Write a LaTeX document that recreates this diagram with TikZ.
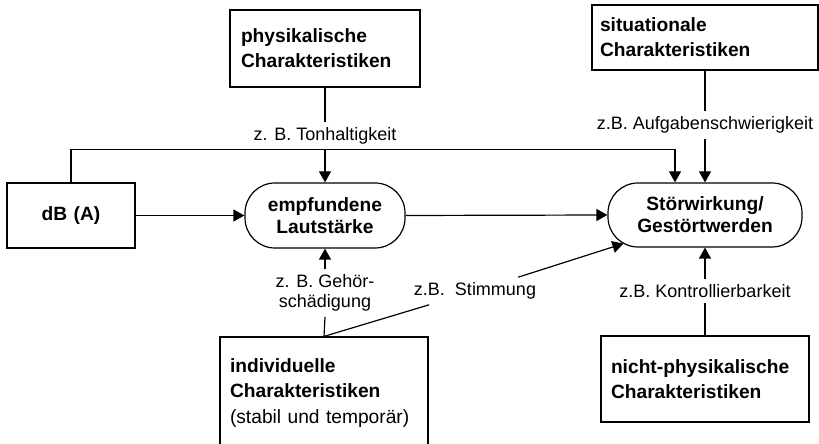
\documentclass[tikz,border=0pt]{standalone}
\usepackage{fontspec}
\setmainfont{Liberation Sans}
\usetikzlibrary{arrows.meta}

\begin{document}
\begin{tikzpicture}[x=0.5pt,y=0.5pt,
        box/.style={draw,line width=0.6pt,align=left,
            font=\fontsize{9.6}{12.5}\selectfont\bfseries},
        roundbox/.style={draw,line width=0.6pt,rounded corners=15pt,align=center,
            minimum width=80pt,minimum height=32.5pt,
            font=\fontsize{9.6}{11}\selectfont\bfseries},
        lbl/.style={font=\fontsize{9}{10}\selectfont,inner sep=2.5pt,align=center},
        con/.style={line width=0.6pt},
        arr/.style={line width=0.6pt,-{Triangle[length=5.5pt,width=6pt]}}]
        \useasboundingbox (0,0) rectangle (819,444);
        \node[box,text width=84pt,inner xsep=5.5pt,minimum height=38.5pt] (phys) at (325,395.5) {physikalische\\Charakteristiken};
        \node[box,text width=105pt,inner xsep=4pt,minimum height=32.5pt] (situ) at (705,406.5) {situationale\\Charakteristiken};
        \node[box,text width=54pt,inner xsep=5pt,minimum height=32.5pt,align=center] (dB) at (71,228.5) {dB (A)};
        \node[roundbox] (empf) at (325,228.5) {empfundene\\Lautstärke};
        \node[roundbox,minimum width=97pt,minimum height=32pt] (stoer) at (705,229) {Störwirkung/\\Gestörtwerden};
        \node[box,text width=94pt,inner xsep=5pt,minimum height=56pt,font=\fontsize{9.6}{12.75}\selectfont\bfseries] (indiv) at (324,51) {individuelle\\Charakteristiken\\{\mdseries (stabil und temporär)}};
        \node[box,text width=94pt,inner xsep=5pt,minimum height=43pt] (nicht) at (705,65) {nicht-physikalische\\Charakteristiken};
        \node[lbl] (lblTon) at (325,308) {z. B. Tonhaltigkeit};
        \node[lbl] (lblAuf) at (705,319) {z.B. Aufgabenschwierigkeit};
        \node[lbl] (lblGeh) at (325,151) {z. B. Gehör-\\schädigung};
        \node[lbl] (lblStim) at (475,153) {z.B.\ \ Stimmung};
        \node[lbl] (lblKon) at (705,153) {z.B. Kontrollierbarkeit};
        \draw[arr] (dB.east) -- (empf.west);
        \draw[arr] (empf.east) -- (stoer.west);
        \draw[arr] (dB.north) -- ++(0,33) -| ([xshift=-15pt]stoer.north);
        \draw[con] (phys.south) -- (lblTon.north);
        \draw[arr] (lblTon.south) -- (empf.north);
        \draw[con] (situ.south) -- (lblAuf.north);
        \draw[arr] (lblAuf.south) -- (stoer.north);
        \draw[con] (indiv.north) -- (lblGeh.south);
        \draw[arr] (lblGeh.north) -- (empf.south);
        \draw[con] (indiv.north) -- (lblStim);
        \draw[arr] (lblStim) -- ([xshift=8pt,yshift=2pt]stoer.south west);
        \draw[con] (nicht.north) -- (lblKon.south);
        \draw[arr] (lblKon.north) -- (stoer.south);
    \end{tikzpicture}
\end{document}
